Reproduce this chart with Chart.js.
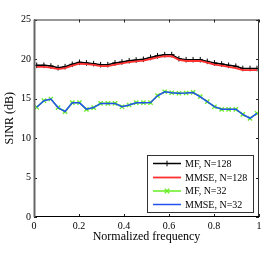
<!DOCTYPE html>
<html>
<head>
<meta charset="utf-8">
<script src="https://cdn.jsdelivr.net/npm/chart.js@4"></script>
<style>
html,body{margin:0;padding:0;background:#fff;}
#wrap{width:275px;height:255px;}
</style>
</head>
<body>
<div id="wrap"><canvas id="c" width="275" height="255"></canvas></div>
<script>
// ---- data ----
const freq = [0.012, 0.044, 0.075, 0.107, 0.138, 0.170, 0.202, 0.233, 0.265, 0.296, 0.328, 0.360, 0.391, 0.423, 0.454, 0.486,
              0.518, 0.549, 0.581, 0.612, 0.644, 0.676, 0.707, 0.739, 0.770, 0.802, 0.834, 0.865, 0.897, 0.928, 0.960, 0.991];
const mf128 = [19.2, 19.2, 19.11, 18.9, 19.03, 19.33, 19.58, 19.5, 19.41, 19.28, 19.28, 19.5, 19.62, 19.78, 19.87, 19.96,
               20.2, 20.4, 20.55, 20.55, 20.04, 19.91, 19.91, 19.91, 19.7, 19.5, 19.37, 19.2, 19.08, 18.8, 18.8, 18.8];
const mmse128 = [19.0, 19.0, 18.9, 18.72, 18.85, 19.15, 19.4, 19.35, 19.25, 19.1, 19.1, 19.3, 19.45, 19.6, 19.7, 19.8,
                 20.0, 20.2, 20.35, 20.35, 19.9, 19.75, 19.75, 19.75, 19.55, 19.3, 19.15, 19.0, 18.85, 18.6, 18.6, 18.6];
const mf32 = [13.89, 14.73, 14.94, 13.84, 13.33, 14.47, 14.47, 13.63, 13.84, 14.39, 14.39, 14.39, 13.96, 14.18, 14.47, 14.47,
              14.47, 15.36, 15.86, 15.73, 15.66, 15.7, 15.78, 15.23, 14.6, 13.96, 13.63, 13.63, 13.63, 13.0, 12.49, 13.13];
const mmse32 = [13.9, 14.72, 14.92, 13.85, 13.35, 14.45, 14.45, 13.65, 13.85, 14.38, 14.38, 14.38, 13.97, 14.18, 14.45, 14.46,
                14.48, 15.35, 15.85, 15.72, 15.66, 15.7, 15.76, 15.22, 14.6, 13.97, 13.64, 13.64, 13.64, 13.0, 12.5, 13.12];
const seriesLabels = ['MF, N=128', 'MMSE, N=128', 'MF, N=32', 'MMSE, N=32'];
const xTickLabels = ['0', '0.2', '0.4', '0.6', '0.8', '1'];
const yTickLabels = ['0', '5', '10', '15', '20', '25'];

const toPts = (ys) => ys.map((y, i) => ({x: freq[i], y: y}));
const SERIF = "'Liberation Serif', 'DejaVu Serif', serif";

const frameAndTicks = {
  id: 'frameAndTicks',
  afterDatasetsDraw(chart) {
    const {ctx, chartArea: a, scales: {x, y}} = chart;
    ctx.save();
    const L = 3;
    ctx.strokeStyle = '#222';
    ctx.lineWidth = 1;
    x.ticks.forEach(t => {
      const px = Math.round(x.getPixelForValue(t.value)) + 0.5;
      ctx.beginPath();
      ctx.moveTo(px, a.bottom); ctx.lineTo(px, a.bottom - L);
      ctx.moveTo(px, a.top); ctx.lineTo(px, a.top + L);
      ctx.stroke();
    });
    y.ticks.forEach(t => {
      const py = Math.round(y.getPixelForValue(t.value)) + 0.5;
      ctx.beginPath();
      ctx.moveTo(a.left, py); ctx.lineTo(a.left + L, py);
      ctx.moveTo(a.right, py); ctx.lineTo(a.right - L, py);
      ctx.stroke();
    });
    // frame
    ctx.strokeStyle = '#333';
    ctx.lineWidth = 1;
    ctx.beginPath();
    ctx.moveTo(a.left, a.top + 0.5); ctx.lineTo(a.right, a.top + 0.5);
    ctx.moveTo(a.right - 0.5, a.top); ctx.lineTo(a.right - 0.5, a.bottom);
    ctx.stroke();
    ctx.strokeStyle = '#000';
    ctx.beginPath();
    ctx.moveTo(a.left, a.bottom - 0.5); ctx.lineTo(a.right, a.bottom - 0.5);
    ctx.stroke();
    ctx.strokeStyle = '#666';
    ctx.lineWidth = 2;
    ctx.beginPath();
    ctx.moveTo(a.left + 0.5, a.top); ctx.lineTo(a.left + 0.5, a.bottom);
    ctx.stroke();
    ctx.restore();
  },
  afterDraw(chart) {
    const {ctx} = chart;
    const bx = 147, by = 155, bw = 106, bh = 57;
    ctx.save();
    ctx.fillStyle = '#fff';
    ctx.fillRect(bx, by, bw, bh);
    ctx.strokeStyle = '#333';
    ctx.lineWidth = 1;
    ctx.strokeRect(bx + 0.5, by + 0.5, bw, bh);
    const rowY = [163.5, 177.5, 191, 204.5];
    chart.data.datasets.forEach((ds, i) => {
      const yy = rowY[i];
      ctx.strokeStyle = ds.borderColor;
      ctx.lineWidth = ds.borderWidth;
      ctx.beginPath();
      ctx.moveTo(153, yy); ctx.lineTo(181, yy);
      ctx.stroke();
      if (ds.pointRadius > 0) {
        const r = ds.pointRadius;
        ctx.lineWidth = ds.pointBorderWidth || 1;
        ctx.strokeStyle = ds.pointBorderColor || ds.borderColor;
        ctx.beginPath();
        if (ds.pointStyle === 'cross') {
          ctx.moveTo(167 - r, yy); ctx.lineTo(167 + r, yy);
          ctx.moveTo(167, yy - r); ctx.lineTo(167, yy + r);
        } else {
          const d = r * 0.75;
          ctx.moveTo(167 - d, yy - d); ctx.lineTo(167 + d, yy + d);
          ctx.moveTo(167 - d, yy + d); ctx.lineTo(167 + d, yy - d);
        }
        ctx.stroke();
      }
      ctx.fillStyle = '#000';
      ctx.font = '10px ' + SERIF;
      ctx.textBaseline = 'middle';
      ctx.textAlign = 'left';
      ctx.fillText(ds.label, 185, yy + 0.5);
    });
    ctx.restore();
  }
};

new Chart(document.getElementById('c'), {
  type: 'line',
  data: {
    datasets: [
      {label: seriesLabels[0], data: toPts(mf128), borderColor: '#000000', borderWidth: 1.5,
       pointStyle: 'cross', pointRadius: 2.8, pointBorderWidth: 1, pointBorderColor: '#000', order: 4},
      {label: seriesLabels[1], data: toPts(mmse128), borderColor: '#ff3030', borderWidth: 1.8,
       pointRadius: 0, order: 3},
      {label: seriesLabels[2], data: toPts(mf32), borderColor: '#66ee22', borderWidth: 1.5,
       pointStyle: 'crossRot', pointRadius: 3, pointBorderWidth: 1.3, pointBorderColor: '#66ee22', order: 2},
      {label: seriesLabels[3], data: toPts(mmse32), borderColor: '#2452f0', borderWidth: 1.5,
       pointRadius: 0, order: 1}
    ]
  },
  options: {
    responsive: false,
    animation: false,
    devicePixelRatio: 1,
    layout: {padding: {top: 19.5, right: 16, left: 0, bottom: 0}},
    plugins: {legend: {display: false}, tooltip: {enabled: false}},
    elements: {line: {tension: 0}, point: {hoverRadius: 0}},
    scales: {
      x: {
        type: 'linear', min: 0, max: 1,
        afterFit: s => { s.height = 38; },
        afterBuildTicks: s => { s.ticks = xTickLabels.map(v => ({value: parseFloat(v)})); },
        ticks: {color: '#000', font: {family: SERIF, size: 10}, padding: 3, maxRotation: 0,
                callback: (v, i) => xTickLabels[i]},
        grid: {display: false, drawTicks: false},
        border: {display: false},
        title: {display: true, text: 'Normalized frequency', color: '#000',
                font: {family: SERIF, size: 12}, padding: {top: 0, bottom: 11}}
      },
      y: {
        type: 'linear', min: 0, max: 25,
        afterFit: s => { s.width = 34; },
        afterBuildTicks: s => { s.ticks = yTickLabels.map(v => ({value: parseFloat(v)})); },
        ticks: {color: '#000', font: {family: SERIF, size: 10}, padding: 3,
                callback: (v, i) => yTickLabels[i]},
        grid: {display: false, drawTicks: false},
        border: {display: false},
        title: {display: true, text: 'SINR (dB)', color: '#000',
                font: {family: SERIF, size: 12}, padding: {top: 3, bottom: 0}}
      }
    }
  },
  plugins: [frameAndTicks]
});
</script>
</body>
</html>
